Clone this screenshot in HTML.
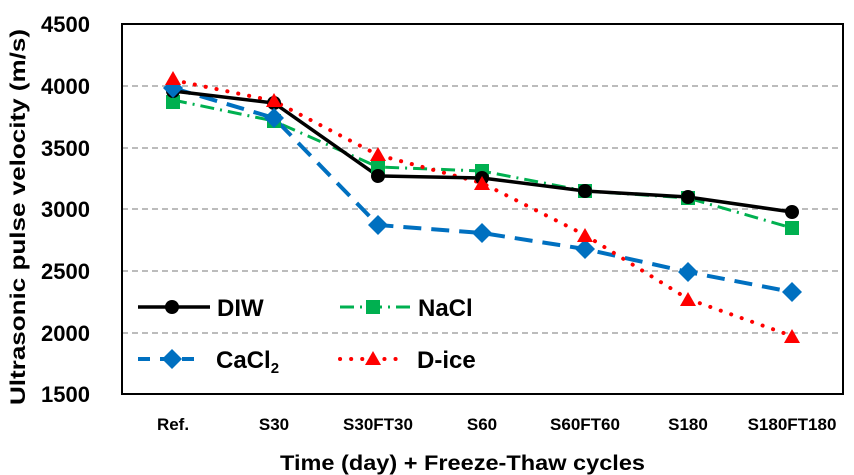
<!DOCTYPE html><html><head><style>body{margin:0;background:#fff}svg{display:block}text{font-family:"Liberation Sans",Arial,sans-serif;font-weight:bold}</style></head><body>
<svg width="854" height="475" viewBox="0 0 854 475">
<g stroke="#a6a6a6" stroke-width="1.5" stroke-dasharray="6,4">
<line x1="122" x2="843" y1="86" y2="86"/><line x1="122" x2="843" y1="148" y2="148"/><line x1="122" x2="843" y1="209" y2="209"/><line x1="122" x2="843" y1="271" y2="271"/><line x1="122" x2="843" y1="333" y2="333"/></g>
<rect x="122" y="24" width="721" height="370" fill="none" stroke="#000" stroke-width="2"/>
<g font-size="22" text-anchor="end"><text x="90" y="32">4500</text><text x="90" y="94">4000</text><text x="90" y="156">3500</text><text x="90" y="217">3000</text><text x="90" y="279">2500</text><text x="90" y="341">2000</text><text x="90" y="402">1500</text></g>
<g font-size="17" text-anchor="middle"><text x="173" y="430">Ref.</text><text x="274" y="430">S30</text><text x="378" y="430">S30FT30</text><text x="482" y="430">S60</text><text x="585" y="430">S60FT60</text><text x="688" y="430">S180</text><text x="792" y="430">S180FT180</text></g>
<text x="280" y="470" font-size="21" textLength="365" lengthAdjust="spacingAndGlyphs">Time (day) + Freeze-Thaw cycles</text>
<text transform="translate(25,405) rotate(-90)" font-size="21" textLength="376" lengthAdjust="spacingAndGlyphs">Ultrasonic pulse velocity (m/s)</text>
<polyline points="173,100 274,121 378,167 482,171 585,191 688,198 792,228" fill="none" stroke="#00b050" stroke-width="3" stroke-dasharray="14,6,2,6"/>
<polyline points="173,88 274,118 378,225 482,233 585,249 688,272 792,292" fill="none" stroke="#0070c0" stroke-width="4" stroke-dasharray="18,10"/>
<polyline points="173,80 274,101 378,155 482,183 585,235 688,299 792,336" fill="none" stroke="#ff0000" stroke-width="4" stroke-dasharray="0.1,11" stroke-linecap="round"/>
<polyline points="173,91 274,103 378,176 482,178 585,191 688,197 792,212" fill="none" stroke="#000" stroke-width="3.5"/>
<g fill="#00b050"><rect x="166" y="95" width="14" height="14"/><rect x="267" y="114" width="14" height="14"/><rect x="371" y="160" width="14" height="14"/><rect x="475" y="164" width="14" height="14"/><rect x="578" y="184" width="14" height="14"/><rect x="681" y="191" width="14" height="14"/><rect x="785" y="221" width="14" height="14"/></g>
<g fill="#000"><circle cx="173" cy="91" r="7"/><circle cx="274" cy="103" r="7"/><circle cx="378" cy="176" r="7"/><circle cx="482" cy="178" r="7"/><circle cx="585" cy="191" r="7"/><circle cx="688" cy="197" r="7"/><circle cx="792" cy="212" r="7"/></g>
<g fill="#0070c0"><path d="M173,78l10,10-10,10-10-10z"/><path d="M274,108l10,10-10,10-10-10z"/><path d="M378,215l10,10-10,10-10-10z"/><path d="M482,223l10,10-10,10-10-10z"/><path d="M585,239l10,10-10,10-10-10z"/><path d="M688,262l10,10-10,10-10-10z"/><path d="M792,282l10,10-10,10-10-10z"/></g>
<g fill="#ff0000"><path d="M173,71l8,14h-16z"/><path d="M274,93l8,14h-16z"/><path d="M378,147l8,14h-16z"/><path d="M482,176l8,14h-16z"/><path d="M585,228l8,14h-16z"/><path d="M688,292l8,14h-16z"/><path d="M792,329l8,14h-16z"/></g>
<line x1="138" x2="210" y1="307" y2="307" stroke="#000" stroke-width="3.5"/><circle cx="172" cy="307" r="7"/>
<line x1="340" x2="410" y1="307" y2="307" stroke="#00b050" stroke-width="3" stroke-dasharray="14,6,2,6"/><rect x="366" y="300" width="14" height="14" fill="#00b050"/>
<line x1="138" x2="200" y1="359" y2="359" stroke="#0070c0" stroke-width="4" stroke-dasharray="12,10"/><path d="M172,349l10,10-10,10-10-10z" fill="#0070c0"/>
<line x1="340" x2="404" y1="359" y2="359" stroke="#f00" stroke-width="4" stroke-dasharray="0.1,11" stroke-linecap="round"/><path d="M373,351l8,14h-16z" fill="#f00"/>
<g font-size="24"><text x="217" y="316">DIW</text><text x="418" y="316">NaCl</text><text x="216" y="368">CaCl<tspan font-size="15" dy="5">2</tspan></text><text x="417" y="368">D-ice</text></g>
</svg></body></html>
